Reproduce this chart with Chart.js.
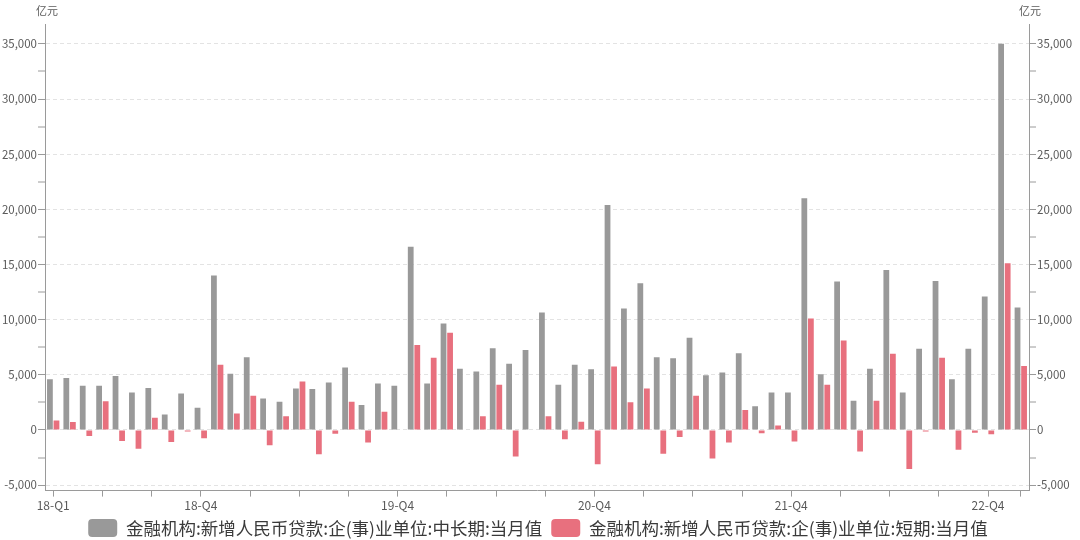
<!DOCTYPE html>
<html>
<head>
<meta charset="utf-8">
<script src="https://cdn.jsdelivr.net/npm/chart.js@4/dist/chart.umd.min.js"></script>
<style>
  html, body { margin: 0; padding: 0; background: #ffffff; }
  #wrap { width: 1080px; height: 540px; position: relative; }
</style>
</head>
<body>
<div id="wrap"><canvas id="c" width="1080" height="540"></canvas></div>
<script>
// Monthly categories, 2018-03 .. 2023-02
const months = [
  '2018-03','2018-04','2018-05','2018-06','2018-07','2018-08','2018-09','2018-10','2018-11','2018-12',
  '2019-01','2019-02','2019-03','2019-04','2019-05','2019-06','2019-07','2019-08','2019-09','2019-10','2019-11','2019-12',
  '2020-01','2020-02','2020-03','2020-04','2020-05','2020-06','2020-07','2020-08','2020-09','2020-10','2020-11','2020-12',
  '2021-01','2021-02','2021-03','2021-04','2021-05','2021-06','2021-07','2021-08','2021-09','2021-10','2021-11','2021-12',
  '2022-01','2022-02','2022-03','2022-04','2022-05','2022-06','2022-07','2022-08','2022-09','2022-10','2022-11','2022-12',
  '2023-01','2023-02'
];

// 企(事)业单位 中长期贷款 当月新增 (亿元)
const midLongLoans = [
  4600, 4700, 4000, 4000, 4900, 3400, 3800, 1400, 3300, 2000,
  14000, 5100, 6600, 2850, 2550, 3750, 3700, 4300, 5650, 2250, 4200, 4000,
  16600, 4200, 9650, 5550, 5300, 7400, 6000, 7250, 10650, 4100, 5900, 5500,
  20400, 11000, 13300, 6600, 6500, 8350, 4950, 5200, 6950, 2150, 3400, 3400,
  21000, 5050, 13450, 2650, 5550, 14500, 3400, 7350, 13500, 4600, 7350, 12100,
  35000, 11100
];

// 企(事)业单位 短期贷款 当月新增 (亿元)
const shortTermLoans = [
  850, 730, -550, 2600, -1000, -1700, 1100, -1100, -150, -750,
  5900, 1500, 3100, -1400, 1250, 4400, -2200, -350, 2550, -1150, 1650, 50,
  7700, 6550, 8800, -50, 1250, 4100, -2400, 50, 1250, -850, 750, -3100,
  5750, 2500, 3750, -2150, -650, 3100, -2600, -1150, 1800, -300, 400, -1050,
  10100, 4100, 8100, -1950, 2650, 6900, -3550, -150, 6550, -1800, -250, -400,
  15100, 5800
];

const seriesNames = [
  '金融机构:新增人民币贷款:企(事)业单位:中长期:当月值',
  '金融机构:新增人民币贷款:企(事)业单位:短期:当月值'
];

// Labelled quarter ticks on the x axis
const xTickMonths = ['2018-03', '2018-12', '2019-12', '2020-12', '2021-12', '2022-12'];
const xTickLabels = ['18-Q1', '18-Q4', '19-Q4', '20-Q4', '21-Q4', '22-Q4'];

// Value axis ticks (major ones carry labels and grid lines)
const yMin = -5500, yMax = 36800;
const yTicks = [-5000, -2500, 0, 2500, 5000, 7500, 10000, 12500, 15000, 17500,
                20000, 22500, 25000, 27500, 30000, 32500, 35000];
const yMajorStep = 5000;
const unitText = '亿元';

const FONT = '"Microsoft YaHei", "Noto Sans CJK SC", "Noto Sans", sans-serif';
const AXIS_GREY = '#9a9a9a';
const TEXT_GREY = '#5a5a5a';

const fmt = v => v.toLocaleString('en-US');
const isMajor = v => v % yMajorStep === 0;

function valueAxis(position) {
  const left = position === 'left';
  return {
    type: 'linear',
    position: position,
    min: yMin,
    max: yMax,
    afterBuildTicks: s => { s.ticks = yTicks.map(v => ({ value: v })); },
    afterFit: s => { s.width = left ? 45 : 51; },
    border: { display: true, color: AXIS_GREY, width: 1, dash: [4, 3] },
    grid: {
      display: true,
      drawOnChartArea: left,
      color: yTicks.map(v => isMajor(v) ? '#e3e3e3' : 'rgba(0,0,0,0)'),
      lineWidth: yTicks.map(v => isMajor(v) ? 1 : 0),
      tickColor: AXIS_GREY,
      tickWidth: 1,
      tickLength: 7
    },
    ticks: {
      padding: 1,
      color: TEXT_GREY,
      font: { family: FONT, size: 11.5 },
      callback: v => isMajor(v) ? fmt(v) : ''
    }
  };
}

// Unit captions above both value axes
const unitCaptions = {
  id: 'unitCaptions',
  afterDraw(chart) {
    const { ctx, chartArea } = chart;
    ctx.save();
    ctx.font = '11px ' + FONT;
    ctx.fillStyle = TEXT_GREY;
    ctx.textAlign = 'center';
    ctx.textBaseline = 'middle';
    ctx.fillText(unitText, chartArea.left + 2, 11);
    ctx.fillText(unitText, chartArea.right + 1, 11);
    ctx.restore();
  }
};

// Nudge the legend row so it sits closer to the bottom edge
const legendOffset = {
  id: 'legendOffset',
  afterLayout(chart) {
    const lg = chart.legend;
    if (lg) { lg.top -= 5; lg.bottom -= 5; lg.left -= 2; lg.right -= 2; }
  }
};

new Chart(document.getElementById('c'), {
  type: 'bar',
  data: {
    labels: months,
    datasets: [
      {
        label: seriesNames[0],
        data: midLongLoans,
        backgroundColor: '#999999',
        borderWidth: 0,
        yAxisID: 'y'
      },
      {
        label: seriesNames[1],
        data: shortTermLoans,
        backgroundColor: '#e8707e',
        borderWidth: 0,
        yAxisID: 'y'
      }
    ]
  },
  options: {
    responsive: false,
    animation: false,
    devicePixelRatio: 1,
    layout: { padding: { top: 24, left: 0, right: 0, bottom: -12 } },
    datasets: { bar: { categoryPercentage: 0.8, barPercentage: 0.88 } },
    scales: {
      x: {
        type: 'category',
        offset: true,
        afterBuildTicks: s => {
          const last = months.length - 1;
          s.ticks = months.map((m, i) => ({ value: i }))
                          .filter(t => t.value % 3 === 0 || t.value === last);
        },
        border: { display: true, color: AXIS_GREY, width: 1 },
        grid: {
          display: true,
          offset: false,
          drawOnChartArea: false,
          tickColor: AXIS_GREY,
          tickLength: 6
        },
        ticks: {
          autoSkip: false,
          maxRotation: 0,
          padding: 2,
          color: TEXT_GREY,
          font: { family: FONT, size: 12 },
          callback: function (v) {
            const k = xTickMonths.indexOf(months[v]);
            return k >= 0 ? xTickLabels[k] : '';
          }
        }
      },
      y: valueAxis('left'),
      y2: valueAxis('right')
    },
    plugins: {
      legend: {
        position: 'bottom',
        labels: {
          boxWidth: 29,
          boxHeight: 18,
          useBorderRadius: true,
          borderRadius: 4,
          padding: 9,
          color: '#3a3a3a',
          font: { family: FONT, size: 17.5 }
        }
      },
      tooltip: { enabled: false }
    }
  },
  plugins: [unitCaptions, legendOffset]
});
</script>
</body>
</html>
